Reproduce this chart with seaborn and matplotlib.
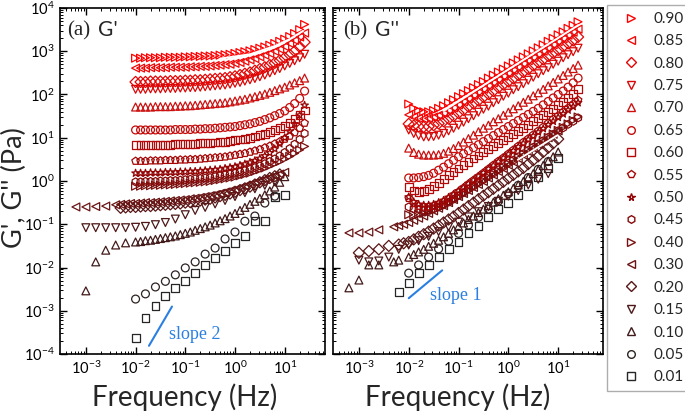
import numpy as np
import pandas as pd
import matplotlib
matplotlib.use("Agg")
import matplotlib.pyplot as plt
import seaborn as sns
from matplotlib.lines import Line2D
from matplotlib.ticker import LogLocator, NullFormatter

# ---------------- data (log10 of modulus in Pa) ----------------
CONC = ["0.90", "0.85", "0.80", "0.75", "0.70", "0.65", "0.60", "0.55", "0.50",
        "0.45", "0.40", "0.30", "0.20", "0.15", "0.10", "0.05", "0.01"]
MARKERS = [">", "<", "D", "v", "^", "o", "s", "p", "*", "h", ">", "<", "D", "v", "^", "o", "s"]
COLORS = ["#ff0000", "#f00808", "#e30606", "#d80808", "#cc1010", "#c40a0a", "#b50808",
          "#a50606", "#930404", "#870a0a", "#7a1010", "#6a1414", "#5a1616", "#4e1818",
          "#421a1a", "#2e2222", "#262626"]

# frequency grids (Hz)
F = [0.01, 0.0126, 0.0158, 0.02, 0.0251, 0.0316, 0.0398, 0.0501, 0.0631, 0.0794,
     0.1, 0.126, 0.158, 0.2, 0.251, 0.316, 0.398, 0.501, 0.631, 0.794,
     1.0, 1.26, 1.58, 2.0, 2.51, 3.16, 3.98, 5.01, 6.31, 7.94,
     10.0, 12.6, 15.8, 20.0, 25.1]
F_EXT = [0.0063, 0.0079]
F_SP5 = [0.001, 0.00158, 0.00251, 0.00398, 0.0063, 0.01, 0.0158, 0.0251, 0.0398, 0.0631,
         0.1, 0.158, 0.251, 0.398, 0.631, 1.0, 1.58, 2.51, 3.98, 6.31, 10.0]
F_LOW_A = [0.00063, 0.001, 0.00158, 0.00251, 0.00398, 0.005]
F_LOW_B = [0.00063, 0.001, 0.00158, 0.00251, 0.005]
F_LOW_C = [0.001, 0.00158, 0.00251, 0.00398, 0.0063]
F_LOW_D = [0.00063, 0.001, 0.00158, 0.00251, 0.005, 0.0063]

# ---- G' (storage modulus) ----
GP_090 = [2.84, 2.84, 2.85, 2.85, 2.85, 2.85, 2.86, 2.86, 2.86, 2.86, 2.87, 2.87, 2.88, 2.88, 2.89, 2.89, 2.90, 2.91, 2.92, 2.93,
          2.95, 2.97, 2.99, 3.01, 3.04, 3.07, 3.10, 3.14, 3.18, 3.23, 3.28, 3.34, 3.41, 3.50, 3.62]
GP_085 = [2.61, 2.61, 2.61, 2.62, 2.62, 2.62, 2.62, 2.63, 2.63, 2.63, 2.63, 2.64, 2.64, 2.65, 2.65, 2.66, 2.67, 2.68, 2.69, 2.70,
          2.72, 2.74, 2.77, 2.80, 2.83, 2.87, 2.91, 2.95, 3.00, 3.05, 3.11, 3.18, 3.25, 3.33, 3.42]
GP_080 = [2.29, 2.29, 2.29, 2.30, 2.30, 2.30, 2.30, 2.31, 2.31, 2.31, 2.32, 2.32, 2.33, 2.33, 2.34, 2.35, 2.36, 2.37, 2.38, 2.40,
          2.42, 2.45, 2.48, 2.51, 2.55, 2.59, 2.63, 2.68, 2.73, 2.79, 2.85, 2.92, 3.00, 3.10, 3.21]
GP_075 = [2.12, 2.12, 2.12, 2.13, 2.13, 2.13, 2.14, 2.14, 2.14, 2.15, 2.15, 2.16, 2.16, 2.17, 2.18, 2.19, 2.20, 2.21, 2.22, 2.24,
          2.26, 2.28, 2.31, 2.34, 2.37, 2.41, 2.45, 2.50, 2.55, 2.60, 2.66, 2.72, 2.78, 2.85, 2.93]
GP_070 = [1.71, 1.71, 1.71, 1.71, 1.72, 1.72, 1.72, 1.72, 1.73, 1.73, 1.74, 1.74, 1.75, 1.76, 1.77, 1.78, 1.79, 1.80, 1.81, 1.83,
          1.85, 1.87, 1.89, 1.92, 1.95, 1.98, 2.01, 2.05, 2.09, 2.13, 2.17, 2.22, 2.27, 2.32, 2.38]
GP_065 = [1.18, 1.18, 1.18, 1.18, 1.18, 1.18, 1.18, 1.18, 1.19, 1.19, 1.19, 1.19, 1.20, 1.20, 1.21, 1.21, 1.22, 1.23, 1.24, 1.25,
          1.26, 1.28, 1.30, 1.32, 1.35, 1.38, 1.42, 1.46, 1.51, 1.56, 1.62, 1.70, 1.79, 1.91, 2.08]
GP_060 = [0.83, 0.83, 0.83, 0.83, 0.84, 0.84, 0.84, 0.84, 0.85, 0.85, 0.85, 0.86, 0.86, 0.87, 0.87, 0.88, 0.89, 0.90, 0.91, 0.92,
          0.94, 0.96, 0.98, 1.00, 1.03, 1.06, 1.09, 1.13, 1.17, 1.22, 1.28, 1.35, 1.43, 1.52, 1.63]
GP_055 = [0.46, 0.46, 0.46, 0.47, 0.47, 0.47, 0.48, 0.48, 0.48, 0.49, 0.49, 0.50, 0.50, 0.51, 0.52, 0.53, 0.54, 0.55, 0.56, 0.58,
          0.60, 0.62, 0.64, 0.67, 0.70, 0.73, 0.77, 0.81, 0.86, 0.91, 0.97, 1.04, 1.12, 1.22, 1.34]
GP_050 = [0.18, 0.18, 0.18, 0.19, 0.19, 0.19, 0.20, 0.20, 0.20, 0.21, 0.21, 0.22, 0.22, 0.23, 0.24, 0.25, 0.26, 0.27, 0.29, 0.31,
          0.33, 0.36, 0.39, 0.43, 0.47, 0.52, 0.58, 0.65, 0.74, 0.86, 1.00, 1.15, 1.32, 1.52, 1.75]
GP_045 = [-0.02, -0.02, -0.01, -0.01, -0.01, 0.00, 0.00, 0.01, 0.01, 0.02, 0.03, 0.04, 0.05, 0.06, 0.07, 0.08, 0.10, 0.12, 0.14, 0.16,
          0.18, 0.21, 0.24, 0.27, 0.31, 0.35, 0.40, 0.45, 0.51, 0.58, 0.66, 0.75, 0.85, 0.96, 1.10]
GP_040 = [-0.12, -0.12, -0.11, -0.11, -0.10, -0.10, -0.09, -0.09, -0.08, -0.07, -0.06, -0.05, -0.04, -0.03, -0.02, -0.01, 0.01, 0.03, 0.05, 0.07,
          0.09, 0.12, 0.15, 0.18, 0.22, 0.26, 0.30, 0.35, 0.40, 0.45, 0.51, 0.57, 0.64, 0.72, 0.80]
GP_030 = [-0.60, -0.60, -0.59, -0.58, -0.55, -0.54,
          -0.53, -0.52, -0.52, -0.51, -0.50, -0.50, -0.49, -0.48, -0.47, -0.46, -0.45, -0.44, -0.43, -0.41, -0.40, -0.38,
          -0.36, -0.34, -0.32, -0.29, -0.26, -0.23, -0.20, -0.16, -0.12, -0.08, -0.04, 0.00, 0.04, 0.08, 0.12, 0.16, 0.20]
GP_020 = [-0.62, -0.61, -0.60, -0.60, -0.59, -0.58, -0.58, -0.57, -0.56, -0.55, -0.54, -0.53, -0.52, -0.50, -0.49, -0.47,
          -0.45, -0.43, -0.41, -0.38, -0.35, -0.32, -0.29, -0.25, -0.21, -0.17, -0.13, -0.08, -0.03, 0.02, 0.07, 0.11, 0.15]
GP_015 = [-1.08, -1.08, -1.08, -1.08, -1.08, -1.07, -1.05, -1.01, -0.96, -0.88, -0.78, -0.68, -0.61, -0.53, -0.45, -0.36,
          -0.27, -0.18, -0.10, -0.02]
GP_010 = [-2.54, -1.87, -1.60, -1.48, -1.43,
          -1.41, -1.40, -1.38, -1.37, -1.35, -1.33, -1.31, -1.29, -1.27, -1.24, -1.21, -1.18, -1.14, -1.10, -1.06, -1.02,
          -0.97, -0.92, -0.87, -0.81, -0.75, -0.68, -0.61, -0.54, -0.47, -0.40, -0.32, -0.23, -0.14, -0.03, 0.10]
GP_005 = [-2.73, -2.61, -2.45, -2.32, -2.17, -2.01, -1.87, -1.69, -1.55, -1.34, -1.18, -0.93, -0.81, -0.51, -0.35]
GP_001 = [-3.63, -3.17, -2.89, -2.66, -2.48, -2.31, -2.13, -1.94, -1.78, -1.62, -1.43, -1.27, -0.92, -0.92, -0.37, -0.32]

# ---- G'' (loss modulus) ----
GPP_090 = [1.78, 1.68, 1.63, 1.60, 1.60, 1.63, 1.68, 1.74, 1.81, 1.88, 1.95, 2.02, 2.09, 2.16, 2.23, 2.30, 2.38, 2.45, 2.52, 2.59,
           2.66, 2.73, 2.80, 2.87, 2.94, 3.01, 3.08, 3.15, 3.23, 3.30, 3.38, 3.45, 3.53, 3.60, 3.68]
GPP_085 = [1.53, 1.48, 1.45, 1.44, 1.45, 1.48, 1.52, 1.57, 1.63, 1.69, 1.76, 1.83, 1.90, 1.98, 2.05, 2.12, 2.20, 2.27, 2.34, 2.42,
           2.49, 2.56, 2.63, 2.71, 2.78, 2.85, 2.93, 3.00, 3.07, 3.15, 3.22, 3.29, 3.37, 3.44, 3.51]
GPP_080 = [1.32, 1.28, 1.26, 1.25, 1.26, 1.29, 1.33, 1.38, 1.44, 1.50, 1.57, 1.64, 1.72, 1.79, 1.86, 1.94, 2.01, 2.08, 2.16, 2.23,
           2.30, 2.37, 2.45, 2.52, 2.59, 2.67, 2.74, 2.81, 2.89, 2.96, 3.03, 3.11, 3.18, 3.25, 3.33]
GPP_075 = [1.18, 1.10, 1.05, 1.02, 1.02, 1.03, 1.06, 1.10, 1.16, 1.22, 1.29, 1.36, 1.44, 1.51, 1.59, 1.66, 1.73, 1.81, 1.88, 1.96,
           2.03, 2.11, 2.18, 2.25, 2.33, 2.40, 2.48, 2.55, 2.62, 2.70, 2.77, 2.85, 2.92, 2.99, 3.07]
GPP_070 = [0.76, 0.66, 0.62, 0.60, 0.60, 0.60, 0.61, 0.64, 0.69, 0.75, 0.82, 0.90, 0.98, 1.06, 1.14, 1.22, 1.29, 1.37, 1.44, 1.52,
           1.59, 1.67, 1.74, 1.82, 1.89, 1.97, 2.04, 2.12, 2.20, 2.28, 2.36, 2.44, 2.52, 2.60, 2.68]
GPP_065 = [0.07, 0.07, 0.08, 0.10, 0.13, 0.18, 0.25, 0.32, 0.40, 0.48, 0.56, 0.63, 0.70, 0.77, 0.84, 0.91, 0.98, 1.05, 1.12, 1.19,
           1.26, 1.33, 1.40, 1.47, 1.54, 1.61, 1.68, 1.76, 1.84, 1.92, 2.00, 2.08, 2.17, 2.27, 2.38]
GPP_060 = [-0.14, -0.22, -0.25, -0.24, -0.19, -0.12, -0.04, 0.05, 0.13, 0.21, 0.29, 0.37, 0.44, 0.52, 0.59, 0.67, 0.74, 0.81, 0.88, 0.95,
           1.02, 1.09, 1.16, 1.23, 1.30, 1.38, 1.45, 1.52, 1.60, 1.67, 1.75, 1.83, 1.92, 2.02, 2.13]
GPP_055 = [-0.40, -0.52, -0.58, -0.60, -0.60, -0.58, -0.54, -0.48, -0.41, -0.33, -0.25, -0.16, -0.07, 0.02, 0.10, 0.19, 0.28, 0.37, 0.46, 0.54,
           0.63, 0.72, 0.81, 0.90, 0.98, 1.07, 1.16, 1.25, 1.34, 1.43, 1.51, 1.60, 1.69, 1.78, 1.87]
GPP_050 = [-0.37, -0.48, -0.54, -0.56, -0.56, -0.54, -0.50, -0.45, -0.38, -0.31, -0.23, -0.15, -0.06, 0.02, 0.11, 0.19, 0.28, 0.36, 0.45, 0.53,
           0.62, 0.70, 0.79, 0.87, 0.96, 1.04, 1.13, 1.21, 1.30, 1.38, 1.47, 1.55, 1.64, 1.72, 1.81]
GPP_045 = [-0.60, -0.64, -0.66, -0.67, -0.66, -0.64, -0.60, -0.55, -0.49, -0.42, -0.34, -0.27, -0.19, -0.12, -0.04, 0.03, 0.11, 0.18, 0.26, 0.33,
           0.41, 0.48, 0.56, 0.63, 0.71, 0.78, 0.86, 0.93, 1.01, 1.08, 1.16, 1.23, 1.31, 1.38, 1.46]
GPP_040 = [-0.78, -0.78, -0.77, -0.75, -0.72, -0.68, -0.63, -0.57, -0.51, -0.44, -0.37, -0.29, -0.22, -0.14, -0.06, 0.01, 0.09, 0.17, 0.24, 0.32,
           0.40, 0.48, 0.55, 0.63, 0.71, 0.78, 0.86, 0.94, 1.01, 1.09, 1.17, 1.24, 1.32, 1.40, 1.48]
GPP_030 = [-1.20, -1.20, -1.18, -1.13, -1.06,
           -1.03, -1.00, -0.96, -0.91, -0.86, -0.81, -0.75, -0.69, -0.63, -0.57, -0.50, -0.43,
           -0.36, -0.29, -0.22, -0.15, -0.08, -0.01, 0.07, 0.14, 0.22, 0.29,
           0.37, 0.44, 0.52, 0.60, 0.68, 0.76, 0.84, 0.92, 1.00, 1.08, 1.16]
GPP_020 = [-1.66, -1.62, -1.58, -1.50, -1.47, -1.44,
           -1.41, -1.35, -1.29, -1.23, -1.17, -1.10, -1.03, -0.96, -0.89, -0.82, -0.74, -0.66, -0.58, -0.50, -0.42, -0.34,
           -0.26, -0.18, -0.10, -0.02, 0.06, 0.14, 0.22, 0.30, 0.39, 0.48, 0.57, 0.67, 0.77, 0.87, 0.97]
GPP_015 = [-1.83, -1.87, -1.85, -1.76, -1.58, -1.48, -1.38, -1.28, -1.17, -1.06, -0.95, -0.83, -0.71, -0.59, -0.47, -0.35,
           -0.22, -0.09, 0.04, 0.17]
GPP_010 = [-2.47, -2.29, -1.94, -1.94, -1.87, -1.83,
           -1.76, -1.70, -1.64, -1.58, -1.51, -1.44, -1.37, -1.29, -1.21, -1.13, -1.05, -0.97, -0.89, -0.81, -0.73, -0.65,
           -0.57, -0.49, -0.41, -0.33, -0.25, -0.17, -0.09, -0.01, 0.08, 0.17, 0.26, 0.36, 0.46, 0.56, 0.67]
GPP_005 = [-2.13, -1.94, -1.76, -1.57, -1.39, -1.21, -1.02, -0.84, -0.65, -0.47, -0.29, -0.10, 0.08, 0.27, 0.45]
GPP_001 = [-2.57, -2.36, -2.13, -1.94, -1.76, -1.57, -1.41, -1.20, -1.04, -0.83, -0.65, -0.51, -0.33, -0.12, 0.09, 0.30, 0.53]

# frequencies of each series
FREQ_GP = [F] * 11 + [F_LOW_A + F_EXT + F[:31], [0.005] + F_EXT + F[:30], F_SP5[:20],
                      F_LOW_C + F[:31], F_SP5[5:20], F_SP5[5:21]]
FREQ_GPP = [F] * 11 + [F_LOW_B + F_EXT + F[:31], F_LOW_C + [0.0079] + F[:31], F_SP5[:20],
                       F_LOW_D + F[:31], F_SP5[5:20], [0.0063] + F_SP5[5:21]]
VAL_GP = [GP_090, GP_085, GP_080, GP_075, GP_070, GP_065, GP_060, GP_055, GP_050, GP_045,
          GP_040, GP_030, GP_020, GP_015, GP_010, GP_005, GP_001]
VAL_GPP = [GPP_090, GPP_085, GPP_080, GPP_075, GPP_070, GPP_065, GPP_060, GPP_055, GPP_050, GPP_045,
           GPP_040, GPP_030, GPP_020, GPP_015, GPP_010, GPP_005, GPP_001]

# blue guide lines (slope 2 / slope 1)
SLOPE2_F = [0.0186, 0.054]
SLOPE2_G = [1.55e-4, 1.25e-3]
SLOPE1_F = [0.0100, 0.047]
SLOPE1_G = [1.95e-3, 8.6e-3]

# white fit curves running through the data
FIT_A_F = [0.5, 2.0, 6.3, 12.6, 23.4]
FIT_A_G = [2.83, 2.93, 3.12, 3.28, 3.47]
FIT_B_F = [0.05, 1.0, 25.1]
FIT_B_G = [1.62, 2.58, 3.60]
FIT_C_F = [1.55, 9.8]
FIT_C_G = [0.49, 1.06]

# ---------------- plotting ----------------
sns.set_theme(style="ticks")
plt.rcParams["font.family"] = ["Lato", "DejaVu Sans"]
plt.rcParams["mathtext.default"] = "regular"

W, H = 685, 412
fig = plt.figure(figsize=(W / 100, H / 100), dpi=100)
ax1 = fig.add_axes([60 / W, 1 - 354 / H, 265 / W, 346 / H])
ax2 = fig.add_axes([333 / W, 1 - 354 / H, 270 / W, 346 / H])

BLUE = "#2a7fe0"
MS = 32

for ax, freqs, vals in ((ax1, FREQ_GP, VAL_GP), (ax2, FREQ_GPP, VAL_GPP)):
    for i in range(len(CONC) - 1, -1, -1):
        df = pd.DataFrame({"f": freqs[i], "G": np.power(10.0, vals[i])})
        sns.scatterplot(data=df, x="f", y="G", ax=ax, marker=MARKERS[i], s=MS,
                        facecolor="none", edgecolor=COLORS[i], linewidth=0.9,
                        legend=False, zorder=3)

for ax, fx, gy in ((ax1, FIT_A_F, FIT_A_G), (ax2, FIT_B_F, FIT_B_G), (ax2, FIT_C_F, FIT_C_G)):
    sns.lineplot(x=fx, y=np.power(10.0, gy), ax=ax, color="white", linewidth=1.4, zorder=4)

sns.lineplot(x=SLOPE2_F, y=SLOPE2_G, ax=ax1, color=BLUE, linewidth=1.5)
sns.lineplot(x=SLOPE1_F, y=SLOPE1_G, ax=ax2, color=BLUE, linewidth=1.5)

xlims = [(10 ** -3.52, 10 ** 1.81), (10 ** -3.52, 10 ** 1.90)]
xlab_x = [0.47, 0.463]
for ax, xl, lx in zip((ax1, ax2), xlims, xlab_x):
    ax.set_xscale("log")
    ax.set_yscale("log")
    ax.set_xlim(*xl)
    ax.set_ylim(1e-4, 1e4)
    for axis in (ax.xaxis, ax.yaxis):
        axis.set_major_locator(LogLocator(base=10, numticks=30))
        axis.set_minor_locator(LogLocator(base=10, subs=np.arange(2, 10), numticks=100))
        axis.set_minor_formatter(NullFormatter())
    ax.tick_params(which="both", direction="in", top=True, right=True, colors="black")
    ax.tick_params(which="major", length=5, width=1.0, labelsize=10.5, pad=4)
    ax.tick_params(which="minor", length=2.5, width=0.7)
    for sp in ax.spines.values():
        sp.set_color("black")
        sp.set_linewidth(1.2)
    ax.set_xlabel("Frequency (Hz)", fontsize=20)
    ax.xaxis.set_label_coords(lx, -0.085)
    ax.set_ylabel("")

ax2.tick_params(labelleft=False)
ax1.set_ylabel("G', G'' (Pa)", fontsize=19.5)
ax1.yaxis.set_label_coords(-0.125, 0.48)

# panel titles
ax1.text(0.026, 0.935, "(a)", transform=ax1.transAxes, fontsize=15,
         family=["Liberation Serif"], va="center", ha="left")
ax1.text(0.145, 0.935, "G'", transform=ax1.transAxes, fontsize=15, va="center", ha="left")
ax2.text(0.037, 0.935, "(b)", transform=ax2.transAxes, fontsize=15,
         family=["Liberation Serif"], va="center", ha="left")
ax2.text(0.156, 0.935, "G''", transform=ax2.transAxes, fontsize=15, va="center", ha="left")

ax1.text(0.047, 2.9e-4, "slope 2", color=BLUE, fontsize=13, family=["Liberation Serif"],
         va="center", ha="left")
ax2.text(0.027, 2.2e-3, "slope 1", color=BLUE, fontsize=13, family=["Liberation Serif"],
         va="center", ha="left")

handles = [Line2D([], [], ls="none", marker=m, markerfacecolor="none", markeredgecolor=c,
                  markeredgewidth=1.0, markersize=5.5) for m, c in zip(MARKERS, COLORS)]
leg = fig.legend(handles, CONC, loc="upper left", bbox_to_anchor=(607 / W, 1 - 5 / H),
                 frameon=True, fancybox=False, edgecolor="#999999", fontsize=11,
                 labelspacing=0.55, handlelength=2.2, handletextpad=0.41, borderpad=0.45,
                 borderaxespad=0)
leg.get_frame().set_linewidth(1.0)

fig.savefig("out.png", dpi=100)
